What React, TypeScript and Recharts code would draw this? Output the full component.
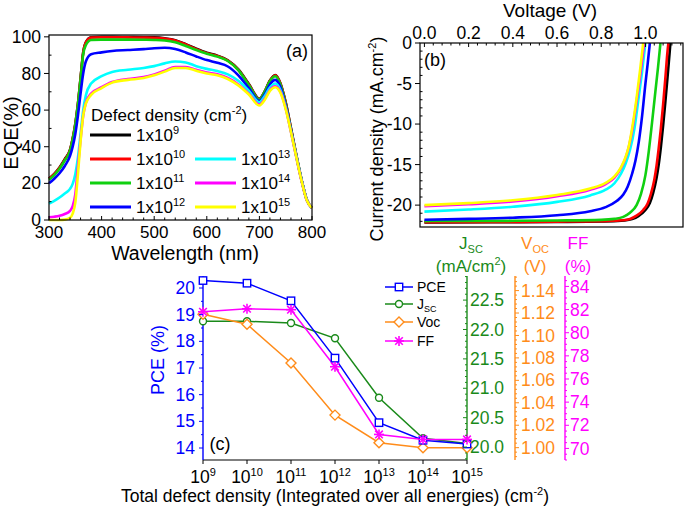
import React from "react";
import { LineChart, Line, XAxis, YAxis } from "recharts";

const FONT = "'Liberation Sans', Arial, Helvetica, sans-serif";

// ---------- (a) EQE vs wavelength ----------
const wavelengths = [300, 310, 320, 330, 340, 345, 350, 355, 360, 365, 370, 380, 400, 420, 450, 480, 500, 520, 540, 560, 580, 600, 620, 640, 660, 680, 700, 710, 720, 730, 740, 750, 760, 770, 780, 790, 800];
const eqe1e9 = [22.6, 25.2, 28.7, 33.2, 38.4, 44.5, 52.5, 63.5, 77.5, 91.5, 97, 99.8, 100, 100, 99.9, 99.8, 99.7, 99.2, 98.2, 96, 93.5, 91.3, 89.7, 87.2, 82.2, 74.2, 66.2, 70.2, 76.2, 79.2, 74.6, 64.2, 50.2, 35.7, 22.2, 11.2, 6.6];
const eqe1e10 = [22.5, 25, 28.5, 33, 38.2, 44.3, 52.3, 63.3, 77.3, 91.3, 96.8, 99.6, 99.8, 99.8, 99.7, 99.6, 99.5, 99, 98, 95.8, 93.3, 91.1, 89.5, 87, 82, 74, 66, 70, 76, 79, 74.5, 64, 50, 35.5, 22, 11, 6.5];
const eqe1e11 = [22, 24.5, 28, 32.5, 37.8, 43.8, 51.8, 62.8, 76.8, 90.5, 95.5, 98.3, 98.5, 98.5, 98.5, 98.4, 98.3, 98, 97, 95, 92.8, 90.8, 89.2, 86.8, 81.8, 73.5, 65.8, 70, 75.8, 78.5, 74, 63.5, 49.5, 35.5, 22, 11, 6.5];
const eqe1e12 = [20, 22.5, 25.5, 29.5, 35, 40, 47, 57, 69, 80, 86.5, 90.5, 91.5, 92.3, 92.8, 93.3, 93.8, 94, 93.3, 91.5, 89.3, 87.3, 85.8, 83.8, 79, 72, 65, 68.5, 74, 76.5, 72.5, 62.5, 49, 35, 22, 11, 6.5];
const eqe1e13 = [9, 10.5, 12.3, 14.5, 17, 19.7, 25, 34, 47, 60, 68, 74.5, 78.5, 80.8, 82, 83, 84, 85.5, 86.5, 86, 84, 82.5, 81.3, 79.5, 76, 70.5, 64.3, 67.5, 72.3, 74.5, 71, 61.5, 48.5, 35, 22, 11, 6.5];
const eqe1e14 = [1.5, 1.8, 2.3, 3.3, 5, 7.5, 14, 29, 44, 57, 64, 69, 72.5, 75.3, 77, 78, 79.5, 81.5, 83.5, 83.5, 82, 80.5, 79.5, 77.5, 74, 69, 63, 66, 71, 73, 70, 61, 48, 34.5, 21.5, 10.8, 6.5];
const eqe1e15 = [0, 0, 0, 0.2, 1.2, 3.5, 9.5, 25, 43, 57, 63.5, 68.3, 72, 75, 76.5, 77.5, 79, 81, 83, 83, 81.5, 80, 79, 77, 73.5, 68.5, 62.5, 65.5, 70.5, 72.5, 69.5, 60.5, 48, 34.5, 21.5, 10.8, 6.5];

// ---------- (b) J-V curves [V, J] ----------
const jv1e9: [number, number][] = [[0, -22.15], [0.3, -22.12], [0.6, -22.08], [0.8, -22.02], [0.89, -21.93], [0.94, -21.72], [0.97, -21.32], [1.0, -20.6], [1.02, -19.75], [1.035, -18.5], [1.05, -16.7], [1.06, -15], [1.07, -12.8], [1.08, -10.2], [1.09, -7.3], [1.1, -4.2], [1.11, -1], [1.113, 0]];
const jv1e10: [number, number][] = [[0, -22.1], [0.3, -22.08], [0.6, -22.04], [0.8, -21.98], [0.88, -21.9], [0.93, -21.7], [0.96, -21.3], [0.99, -20.6], [1.01, -19.8], [1.025, -18.6], [1.04, -16.9], [1.05, -15.2], [1.06, -13], [1.07, -10.5], [1.08, -7.6], [1.09, -4.4], [1.1, -1], [1.104, 0]];
const jv1e11: [number, number][] = [[0, -21.97], [0.3, -21.95], [0.6, -21.9], [0.8, -21.82], [0.86, -21.7], [0.9, -21.45], [0.93, -20.95], [0.96, -20.0], [0.98, -18.6], [1.0, -16.3], [1.015, -13.4], [1.03, -9.8], [1.045, -6], [1.057, -3], [1.068, 0]];
const jv1e12: [number, number][] = [[0, -21.8], [0.2, -21.7], [0.4, -21.55], [0.6, -21.25], [0.75, -20.75], [0.82, -20.25], [0.87, -19.5], [0.9, -18.7], [0.92, -17.7], [0.94, -16.1], [0.955, -14.5], [0.97, -12.2], [0.985, -9], [1.0, -5], [1.01, -2.6], [1.02, 0]];
const jv1e13: [number, number][] = [[0, -20.8], [0.2, -20.55], [0.4, -20.2], [0.6, -19.6], [0.75, -18.8], [0.82, -18.1], [0.86, -17.3], [0.89, -16.1], [0.91, -14.9], [0.93, -13.2], [0.95, -10.6], [0.97, -6.6], [0.985, -3.5], [1.0, 0]];
const jv1e14: [number, number][] = [[0, -20.15], [0.2, -19.9], [0.4, -19.55], [0.6, -18.9], [0.75, -18.1], [0.82, -17.4], [0.86, -16.6], [0.89, -15.4], [0.91, -14.2], [0.925, -12.8], [0.945, -10], [0.963, -6.6], [0.98, -3.2], [0.994, 0]];
const jv1e15: [number, number][] = [[0, -20.0], [0.2, -19.75], [0.4, -19.4], [0.6, -18.75], [0.75, -17.95], [0.82, -17.25], [0.86, -16.45], [0.89, -15.3], [0.91, -14.1], [0.925, -12.7], [0.943, -10], [0.96, -6.8], [0.976, -3.3], [0.99, 0]];

// ---------- (c) device parameters vs defect density ----------
const defectExp = [9, 10, 11, 12, 13, 14, 15];
const pceValues = [20.28, 20.18, 19.52, 17.37, 14.95, 14.29, 14.15];
const jscValues = [22.14, 22.14, 22.11, 21.85, 20.84, 20.15, 20.06];
const vocValues = [1.119, 1.11, 1.0755, 1.029, 1.0044, 1.0, 1.0];
const ffValues = [81.81, 82.07, 81.99, 77.06, 71.21, 70.78, 70.78];

const series = [
  { key: "d9", exp: "9", color: "#000000", eqe: eqe1e9, jv: jv1e9 },
  { key: "d10", exp: "10", color: "#ff0000", eqe: eqe1e10, jv: jv1e10 },
  { key: "d11", exp: "11", color: "#10d010", eqe: eqe1e11, jv: jv1e11 },
  { key: "d12", exp: "12", color: "#0000ff", eqe: eqe1e12, jv: jv1e12 },
  { key: "d13", exp: "13", color: "#00ffff", eqe: eqe1e13, jv: jv1e13 },
  { key: "d14", exp: "14", color: "#ff00ff", eqe: eqe1e14, jv: jv1e14 },
  { key: "d15", exp: "15", color: "#ffff00", eqe: eqe1e15, jv: jv1e15 },
];

const eqeRows = wavelengths.map((w, i) => {
  const row: Record<string, number> = { w };
  series.forEach((s) => (row[s.key] = s.eqe[i]));
  return row;
});

const cRows = defectExp.map((e, i) => ({
  e,
  pce: pceValues[i],
  jsc: jscValues[i],
  voc: vocValues[i],
  ff: ffValues[i],
}));

const C_PCE = "#0000ff";
const C_JSC = "#1a8a1a";
const C_VOC = "#ff8c1a";
const C_FF = "#ff00ff";

function steps(from: number, to: number, step: number): number[] {
  const out: number[] = [];
  const n = Math.round((to - from) / step);
  for (let i = 0; i <= n; i++) out.push(Math.round((from + i * step) * 1e6) / 1e6);
  return out;
}

type Side = "left" | "right" | "top" | "bottom";
interface TickSpec {
  side: Side;
  majors: number[];
  color: string;
  out: number;
  minorOut: number;
  gap: number;
  fontSize?: number;
  fmt?: (v: number) => React.ReactNode;
}

// draws its own tick line (major / minor) and label; axis uses tickSize 0
function makeTick(spec: TickSpec) {
  return function TickMark(props: any) {
    const { x, y, payload } = props;
    const v = payload.value as number;
    const major = spec.majors.some((m) => Math.abs(m - v) < 1e-7);
    const len = major ? spec.out : spec.minorOut;
    const fs = spec.fontSize ?? 17.5;
    const label = major ? (spec.fmt ? spec.fmt(v) : String(v)) : null;
    let line;
    let text = null;
    const tp = { fill: spec.color, fontSize: fs, fontFamily: FONT, stroke: "none" };
    if (spec.side === "left") {
      line = <line x1={x} y1={y} x2={x - len} y2={y} />;
      if (label !== null) text = <text {...tp} x={x - spec.gap} y={y} dy="0.35em" textAnchor="end">{label}</text>;
    } else if (spec.side === "right") {
      line = <line x1={x} y1={y} x2={x + len} y2={y} />;
      if (label !== null) text = <text {...tp} x={x + spec.gap} y={y} dy="0.35em" textAnchor="start">{label}</text>;
    } else if (spec.side === "bottom") {
      line = <line x1={x} y1={y} x2={x} y2={y + len} />;
      if (label !== null) text = <text {...tp} x={x} y={y + spec.gap} dy="0.71em" textAnchor="middle">{label}</text>;
    } else {
      line = <line x1={x} y1={y} x2={x} y2={y - len} />;
      if (label !== null) text = <text {...tp} x={x} y={y - spec.gap} textAnchor="middle">{label}</text>;
    }
    return (
      <g stroke={spec.color} strokeWidth={1}>
        {line}
        {text}
      </g>
    );
  };
}

const pow10 = (v: number) => (
  <>
    <tspan>10</tspan>
    <tspan dy={-7} fontSize={11}>{v}</tspan>
  </>
);

function PanelA() {
  return (
    <LineChart width={330} height={260} data={eqeRows} margin={{ top: 35, right: 18, left: 0, bottom: 0 }}>
      <XAxis
        dataKey="w"
        type="number"
        domain={[300, 800]}
        ticks={steps(300, 800, 20)}
        interval={0}
        height={40}
        axisLine={false}
        tickLine={false}
        tickSize={0}
        tickMargin={0}
        tick={makeTick({ side: "bottom", majors: steps(300, 800, 100), color: "#000", out: -4, minorOut: -2.5, gap: 6, fontSize: 17 })}
      />
      <YAxis
        type="number"
        domain={[0, 101]}
        ticks={steps(0, 100, 10)}
        interval={0}
        width={49}
        axisLine={false}
        tickLine={false}
        tickSize={0}
        tickMargin={0}
        tick={makeTick({ side: "left", majors: steps(0, 100, 20), color: "#000", out: 5, minorOut: -2.5, gap: 8 })}
      />
      {series.map((s) => (
        <Line key={s.key} dataKey={s.key} type="monotone" stroke={s.color} strokeWidth={2.6} dot={false} isAnimationActive={false} />
      ))}
    </LineChart>
  );
}

function PanelB() {
  return (
    <LineChart width={345} height={240} margin={{ top: 13, right: 2, left: 0, bottom: 13 }}>
      <XAxis
        dataKey="v"
        type="number"
        orientation="top"
        domain={[-0.02, 1.17]}
        ticks={steps(0, 1.16, 0.04)}
        interval={0}
        height={30}
        axisLine={false}
        tickLine={false}
        tickSize={0}
        tickMargin={0}
        allowDataOverflow
        tick={makeTick({ side: "top", majors: steps(0, 1, 0.2), color: "#000", out: -4, minorOut: -2.5, gap: 4, fmt: (v) => v.toFixed(1) })}
      />
      <YAxis
        dataKey="j"
        type="number"
        domain={[-22.7, 0]}
        ticks={steps(-22, 0, 1)}
        interval={0}
        width={80}
        axisLine={false}
        tickLine={false}
        tickSize={0}
        tickMargin={0}
        allowDataOverflow
        tick={makeTick({ side: "left", majors: steps(-20, 0, 5), color: "#000", out: 5, minorOut: -2.5, gap: 8 })}
      />
      {series.map((s) => (
        <Line
          key={s.key}
          data={s.jv.map(([v, j]) => ({ v, j }))}
          dataKey="j"
          type="monotone"
          stroke={s.color}
          strokeWidth={2.6}
          dot={false}
          isAnimationActive={false}
        />
      ))}
    </LineChart>
  );
}

const Square = ({ cx, cy }: any) => (
  <rect x={cx - 3.7} y={cy - 3.7} width={7.4} height={7.4} fill="#fff" stroke={C_PCE} strokeWidth={1.4} />
);
const Circ = ({ cx, cy }: any) => <circle cx={cx} cy={cy} r={3.5} fill="#fff" stroke={C_JSC} strokeWidth={1.4} />;
const Diamond = ({ cx, cy }: any) => (
  <polygon points={`${cx},${cy - 5} ${cx + 5},${cy} ${cx},${cy + 5} ${cx - 5},${cy}`} fill="#fff" stroke={C_VOC} strokeWidth={1.4} />
);
const Star = ({ cx, cy }: any) => (
  <g stroke={C_FF} strokeWidth={1.6}>
    <line x1={cx} y1={cy - 5} x2={cx} y2={cy + 5} />
    <line x1={cx - 5} y1={cy} x2={cx + 5} y2={cy} />
    <line x1={cx - 3.8} y1={cy - 3.8} x2={cx + 3.8} y2={cy + 3.8} />
    <line x1={cx - 3.8} y1={cy + 3.8} x2={cx + 3.8} y2={cy - 3.8} />
  </g>
);

// right-hand axes are stacked outward in id order: a_jsc, b_voc, c_ff
function PanelC() {
  return (
    <LineChart width={485} height={240} data={cRows} margin={{ top: 26, right: 0, left: 0, bottom: 0 }}>
      <XAxis
        dataKey="e"
        type="number"
        domain={[9, 15]}
        ticks={defectExp}
        interval={0}
        height={30}
        axisLine={{ stroke: "#000", strokeWidth: 1.2 }}
        tickLine={false}
        tickSize={0}
        tickMargin={0}
        tick={makeTick({ side: "bottom", majors: defectExp, color: "#000", out: 4, minorOut: 0, gap: 11, fmt: pow10 })}
      />
      <YAxis
        yAxisId="pce"
        orientation="left"
        type="number"
        domain={[13.55, 20.45]}
        ticks={steps(14, 20, 0.5)}
        interval={0}
        width={83}
        axisLine={{ stroke: C_PCE, strokeWidth: 1.4 }}
        tickLine={false}
        tickSize={0}
        tickMargin={0}
        tick={makeTick({ side: "left", majors: steps(14, 20, 1), color: C_PCE, out: 4, minorOut: 2, gap: 8 })}
      />
      <YAxis
        yAxisId="a_jsc"
        orientation="right"
        type="number"
        domain={[19.78, 22.91]}
        ticks={steps(19.8, 22.9, 0.1)}
        interval={0}
        width={48}
        axisLine={{ stroke: C_JSC, strokeWidth: 1.4 }}
        tickLine={false}
        tickSize={0}
        tickMargin={0}
        tick={makeTick({ side: "right", majors: steps(20, 22.5, 0.5), color: C_JSC, out: -4, minorOut: -2, gap: 3, fmt: (v) => v.toFixed(1) })}
      />
      <YAxis
        yAxisId="b_voc"
        orientation="right"
        type="number"
        domain={[0.989, 1.153]}
        ticks={steps(0.992, 1.152, 0.004)}
        interval={0}
        width={50}
        axisLine={{ stroke: C_VOC, strokeWidth: 1.4 }}
        tickLine={false}
        tickSize={0}
        tickMargin={0}
        tick={makeTick({ side: "right", majors: steps(1.0, 1.14, 0.02), color: C_VOC, out: 4, minorOut: 2, gap: 6, fmt: (v) => v.toFixed(2) })}
      />
      <YAxis
        yAxisId="c_ff"
        orientation="right"
        type="number"
        domain={[69, 84.9]}
        ticks={steps(69, 84.5, 0.5)}
        interval={0}
        width={40}
        axisLine={{ stroke: C_FF, strokeWidth: 1.4 }}
        tickLine={false}
        tickSize={0}
        tickMargin={0}
        tick={makeTick({ side: "right", majors: steps(70, 84, 2), color: C_FF, out: 4, minorOut: 2, gap: 5 })}
      />
      <Line yAxisId="a_jsc" dataKey="jsc" stroke={C_JSC} strokeWidth={1.5} isAnimationActive={false}
        dot={(p: any) => <Circ key={`j${p.index}`} cx={p.cx} cy={p.cy} />} />
      <Line yAxisId="b_voc" dataKey="voc" stroke={C_VOC} strokeWidth={1.5} isAnimationActive={false}
        dot={(p: any) => <Diamond key={`v${p.index}`} cx={p.cx} cy={p.cy} />} />
      <Line yAxisId="pce" dataKey="pce" stroke={C_PCE} strokeWidth={1.5} isAnimationActive={false}
        dot={(p: any) => <Square key={`p${p.index}`} cx={p.cx} cy={p.cy} />} />
      <Line yAxisId="c_ff" dataKey="ff" stroke={C_FF} strokeWidth={1.5} isAnimationActive={false}
        dot={(p: any) => <Star key={`f${p.index}`} cx={p.cx} cy={p.cy} />} />
    </LineChart>
  );
}

const legendA = [
  { s: series[0], x: 90, y: 135 },
  { s: series[1], x: 90, y: 159 },
  { s: series[2], x: 90, y: 183 },
  { s: series[3], x: 90, y: 207 },
  { s: series[4], x: 195, y: 159 },
  { s: series[5], x: 195, y: 183 },
  { s: series[6], x: 195, y: 207 },
];

const legendC = [
  { label: "PCE", color: C_PCE, y: 287, M: Square },
  { label: "J", sub: "SC", color: C_JSC, y: 304, M: Circ },
  { label: "Voc", color: C_VOC, y: 322, M: Diamond },
  { label: "FF", color: C_FF, y: 341, M: Star },
];

function Overlay() {
  return (
    <svg width={685} height={509} style={{ position: "absolute", left: 0, top: 0, pointerEvents: "none" }} fontFamily={FONT}>
      {/* frames */}
      <rect x={49} y={35} width={263} height={185} fill="none" stroke="#000" strokeWidth={1.2} />
      <rect x={420} y={43} width={263} height={184} fill="none" stroke="#000" strokeWidth={1.2} />

      {/* (a) */}
      <text x={297} y={57} fontSize={18} textAnchor="middle">(a)</text>
      <text transform="translate(18,133) rotate(-90)" fontSize={20} textAnchor="middle">EQE(%)</text>
      <text x={185} y={260} fontSize={19.5} textAnchor="middle">Wavelength (nm)</text>
      <text x={91} y={121} fontSize={17}>
        Defect density (cm<tspan dy={-7} fontSize={11}>-2</tspan><tspan dy={7}>)</tspan>
      </text>
      {legendA.map(({ s, x, y }) => (
        <g key={s.key}>
          <line x1={x} y1={y} x2={x + 41} y2={y} stroke={s.color} strokeWidth={3} />
          <text x={x + 46} y={y + 6} fontSize={17}>
            1x10<tspan dy={-7} fontSize={11}>{s.exp}</tspan>
          </text>
        </g>
      ))}

      {/* (b) */}
      <text x={550} y={17} fontSize={19} textAnchor="middle">Voltage (V)</text>
      <text transform="translate(383,139) rotate(-90)" fontSize={18} textAnchor="middle">
        Current density (mA.cm<tspan dy={-7} fontSize={11}>-2</tspan><tspan dy={7}>)</tspan>
      </text>
      <text x={435} y={66} fontSize={18} textAnchor="middle">(b)</text>

      {/* (c) */}
      <text transform="translate(164,360) rotate(-90)" fontSize={18} textAnchor="middle" fill={C_PCE}>PCE (%)</text>
      <text x={220} y={450} fontSize={18} textAnchor="middle">(c)</text>
      <text x={335} y={502} fontSize={17.5} textAnchor="middle">
        Total defect density (Integrated over all energies) (cm<tspan dy={-7} fontSize={11}>-2</tspan><tspan dy={7}>)</tspan>
      </text>
      {legendC.map(({ label, sub, color, y, M }) => (
        <g key={label}>
          <line x1={385} y1={y} x2={413} y2={y} stroke={color} strokeWidth={1.5} />
          <M cx={399} cy={y} />
          <text x={417} y={y + 5} fontSize={14}>
            {label}
            {sub ? <tspan dy={3} fontSize={9}>{sub}</tspan> : null}
          </text>
        </g>
      ))}
      <text x={471} y={249} fontSize={17} textAnchor="middle" fill={C_JSC}>
        J<tspan dy={4} fontSize={11}>SC</tspan>
      </text>
      <text x={471} y={272} fontSize={17} textAnchor="middle" fill={C_JSC}>
        (mA/cm<tspan dy={-7} fontSize={11}>2</tspan><tspan dy={7}>)</tspan>
      </text>
      <text x={535} y={249} fontSize={17} textAnchor="middle" fill={C_VOC}>
        V<tspan dy={4} fontSize={11}>OC</tspan>
      </text>
      <text x={535} y={272} fontSize={17} textAnchor="middle" fill={C_VOC}>(V)</text>
      <text x={578} y={249} fontSize={17} textAnchor="middle" fill={C_FF}>FF</text>
      <text x={578} y={272} fontSize={17} textAnchor="middle" fill={C_FF}>(%)</text>
    </svg>
  );
}

export default function App() {
  return (
    <div style={{ position: "absolute", left: 0, top: 0, width: 685, height: 509, background: "#fff", fontFamily: FONT, overflow: "hidden" }}>
      <div style={{ position: "absolute", left: 0, top: 0 }}>
        <PanelA />
      </div>
      <div style={{ position: "absolute", left: 340, top: 0 }}>
        <PanelB />
      </div>
      <div style={{ position: "absolute", left: 120, top: 250 }}>
        <PanelC />
      </div>
      <Overlay />
    </div>
  );
}
